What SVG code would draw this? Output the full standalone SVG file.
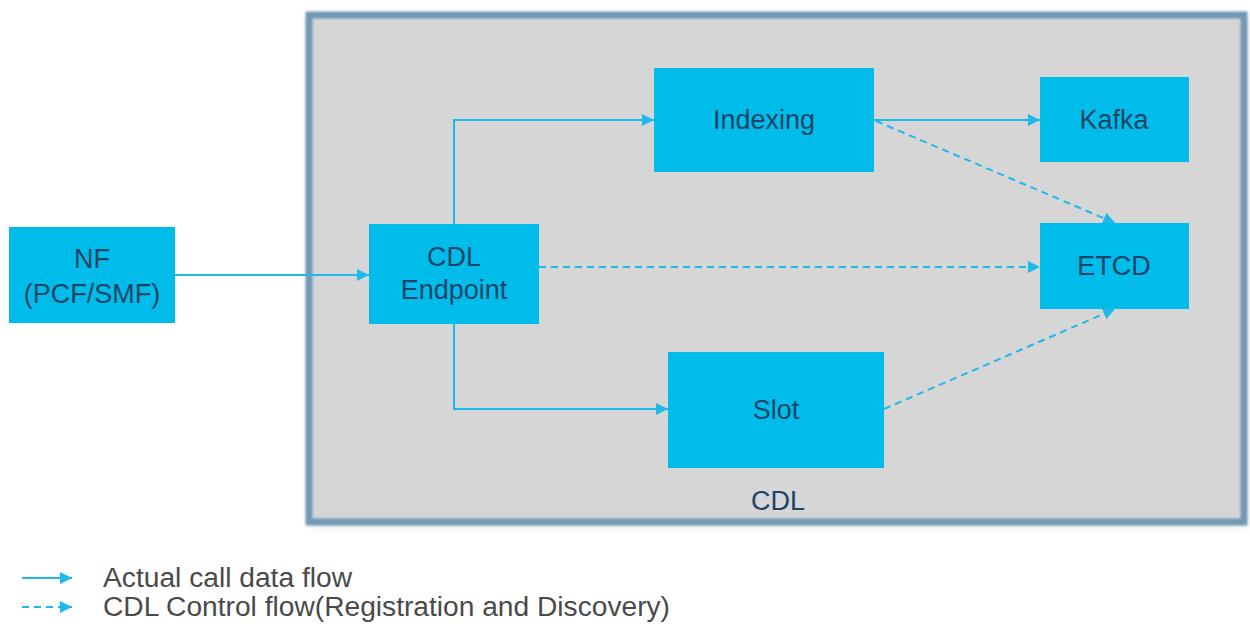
<svg xmlns="http://www.w3.org/2000/svg" width="1250" height="624" viewBox="0 0 1250 624">
<style>
.node{fill:#00bceb;}
.lbl{font-family:"Liberation Sans",Arial,sans-serif;font-size:27px;fill:#1d4466;text-anchor:middle;}
.leg{font-family:"Liberation Sans",Arial,sans-serif;font-size:27px;fill:#4a4a4a;}
.flow{stroke:#1fb8ea;stroke-width:2;fill:none;}
.ctl{stroke:#1fb8ea;stroke-width:2;fill:none;stroke-dasharray:7 5;}
</style>
<defs>
<marker id="ah" viewBox="0 0 10 10" refX="10" refY="5" markerWidth="6" markerHeight="6" orient="auto" markerUnits="userSpaceOnUse">
<path d="M0,0 L10,5 L0,10 z" fill="#1fb8ea"/>
</marker>
<marker id="ahs" viewBox="0 0 10 10" refX="10" refY="5" markerWidth="12" markerHeight="12" orient="auto" markerUnits="userSpaceOnUse">
<path d="M0,0 L10,5 L0,10 z" fill="#1fb8ea"/>
</marker>
<filter id="blur" x="-5%" y="-5%" width="110%" height="110%">
<feGaussianBlur stdDeviation="1.2"/>
</filter>
<filter id="shadow" x="-5%" y="-5%" width="110%" height="110%">
<feGaussianBlur stdDeviation="4"/>
</filter>
</defs>
<rect width="1250" height="624" fill="#ffffff"/>
<g id="cdl">
<rect x="309" y="16" width="938" height="510" fill="#000" opacity="0.12" filter="url(#shadow)"/>
<rect x="309" y="15" width="935" height="507" fill="#d6d6d6"/>
<rect x="309" y="15" width="935" height="507" fill="none" stroke="#7099b5" stroke-width="7" filter="url(#blur)"/>
<text class="lbl" x="778" y="510" fill="#1a4d72">CDL</text>
</g>
<g id="connectors">
<path class="flow" d="M175,275 H369" marker-end="url(#ahs)"/>
<path class="flow" d="M454,224 V120 H654" marker-end="url(#ahs)"/>
<path class="flow" d="M454,324 V409 H668" marker-end="url(#ahs)"/>
<path class="flow" d="M874,120 H1040" marker-end="url(#ahs)"/>
<path class="ctl" d="M876,121 L1115,223" marker-end="url(#ahs)"/>
<path class="ctl" d="M539,267 H1040" marker-end="url(#ahs)"/>
<path class="ctl" d="M884,409 L1115,309" marker-end="url(#ahs)"/>
</g>
<g id="nf">
<rect class="node" x="9" y="227" width="166" height="96"/>
<text class="lbl" x="92" y="268">NF</text>
<text class="lbl" x="92" y="303">(PCF/SMF)</text>
</g>
<g id="endpoint">
<rect class="node" x="369" y="224" width="170" height="100"/>
<text class="lbl" x="454" y="266">CDL</text>
<text class="lbl" x="454" y="299">Endpoint</text>
</g>
<g id="indexing">
<rect class="node" x="654" y="68" width="220" height="104"/>
<text class="lbl" x="764" y="129">Indexing</text>
</g>
<g id="kafka">
<rect class="node" x="1040" y="77" width="149" height="85"/>
<text class="lbl" x="1114" y="129">Kafka</text>
</g>
<g id="etcd">
<rect class="node" x="1040" y="223" width="149" height="86"/>
<text class="lbl" x="1114" y="275">ETCD</text>
</g>
<g id="slot">
<rect class="node" x="668" y="352" width="216" height="116"/>
<text class="lbl" x="776" y="419">Slot</text>
</g>
<g id="legend">
<path class="flow" d="M22,578 H72" marker-end="url(#ahs)"/>
<path class="ctl" d="M22,607 H72" stroke-dasharray="5 3" marker-end="url(#ahs)"/>
<text class="leg" x="103" y="587" textLength="249" lengthAdjust="spacingAndGlyphs">Actual call data flow</text>
<text class="leg" x="103" y="616" textLength="567" lengthAdjust="spacingAndGlyphs">CDL Control flow(Registration and Discovery)</text>
</g>
</svg>
